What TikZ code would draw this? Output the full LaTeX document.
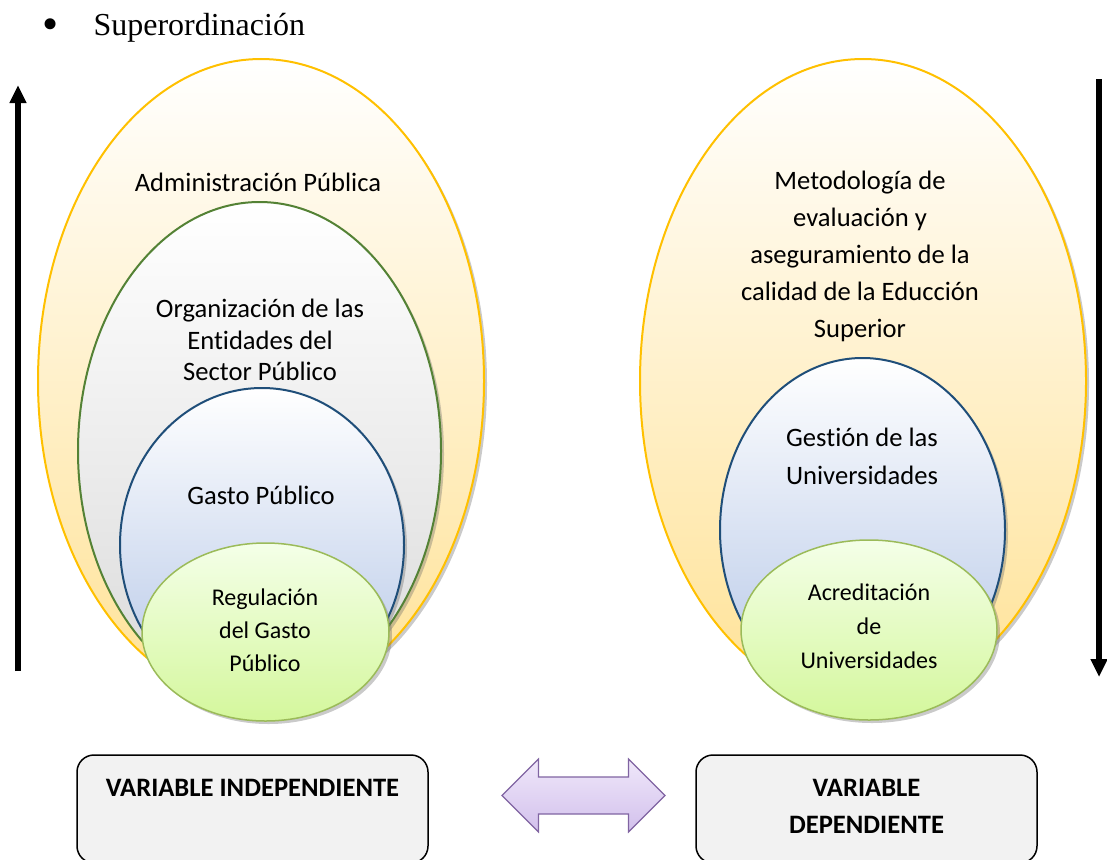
\documentclass[tikz,border=0pt]{standalone}
\usepackage{fontspec}
\setmainfont{Carlito}[Ligatures=NoCommon]
\newfontfamily\titlefont{Liberation Serif}
\usepackage{xcolor}
\usepackage{tikz}
\definecolor{ovalgold}{RGB}{255, 192, 0}
\definecolor{ovalpeach}{RGB}{255, 226, 150}
\definecolor{orggreen}{RGB}{84, 130, 53}
\definecolor{orggray}{RGB}{218, 218, 218}
\definecolor{gastblue}{RGB}{31, 78, 121}
\definecolor{gastsky}{RGB}{180, 198, 231}
\definecolor{regborder}{RGB}{155, 187, 89}
\definecolor{regtop}{RGB}{244, 255, 232}
\definecolor{regbottom}{RGB}{212, 247, 156}
\definecolor{boxgray}{RGB}{242, 242, 242}
\definecolor{arrowviolet}{RGB}{128, 100, 162}
\definecolor{violettop}{RGB}{240, 232, 250}
\definecolor{violetbottom}{RGB}{210, 192, 236}
\usetikzlibrary{shapes.geometric, arrows.meta, shadows, positioning}

\begin{document}
\begin{tikzpicture}[
    x=1pt, y=-1pt,
    oval/.style={ellipse, inner sep=0pt, line width=2pt,
        drop shadow={shadow xshift=3pt, shadow yshift=-3pt, opacity=0.35, fill=black!60}},
    outeroval/.style={oval, draw=ovalgold, top color=white, bottom color=ovalpeach},
    orgoval/.style={oval, draw=orggreen, top color=white, bottom color=orggray},
    gastoval/.style={oval, draw=gastblue, top color=white, bottom color=gastsky},
    regoval/.style={oval, line width=1.5pt, draw=regborder, top color=regtop, bottom color=regbottom},
    ovaltext/.style={align=center, inner sep=0pt, font=\fontsize{26.6}{37}\selectfont},
    smalltext/.style={align=center, inner sep=0pt, font=\fontsize{24}{34}\selectfont},
    varbox/.style={rectangle, rounded corners=17pt, draw=black, line width=1.5pt, fill=boxgray, minimum height=108},
    vartext/.style={align=center, inner sep=0pt, font=\fontsize{26.6}{37}\selectfont\bfseries},
    trend/.style={line width=6pt, -{Triangle[width=16pt, length=18pt]}},
    twoway/.style={draw=arrowviolet, line width=1.2pt, line join=miter, top color=violettop, bottom color=violetbottom}
]
    \useasboundingbox (0,0) rectangle (1107,859);
    \clip (0,0) rectangle (1107,859);

    % Title
    \node[anchor=base, font=\titlefont\fontsize{46}{46}\selectfont] (bullet) at (51,40) {\textbullet};
    \node[anchor=base west, font=\titlefont\fontsize{32}{38}\selectfont] (title) at (90,36) {Superordinación};

    % Left nest
    \node[outeroval, minimum width=446, minimum height=644] (adm) at (261,381) {};
    \node[orgoval, minimum width=363, minimum height=498] (org) at (259.5,451) {};
    \node[gastoval, minimum width=284, minimum height=314] (gasto) at (262,545) {};
    \node[regoval, minimum width=247, minimum height=178] (reg) at (265.5,632) {};

    \node[ovaltext] (admtext) at (258,182) {Administración Pública};
    \node[ovaltext, font=\fontsize{26.6}{31.5}\selectfont] (orgtext) at (260,340) {Organización de las\\Entidades del\\Sector Público};
    \node[ovaltext] (gastotext) at (261,495) {Gasto Público};
    \node[smalltext, font=\fontsize{24}{33}\selectfont] (regtext) at (265,630) {Regulación\\del Gasto\\Público};

    % Right nest
    \node[outeroval, minimum width=446, minimum height=644] (met) at (863,381) {};
    \node[gastoval, minimum width=285, minimum height=344] (gest) at (862.5,530) {};
    \node[regoval, minimum width=256, minimum height=180] (acr) at (869,630) {};

    \node[ovaltext] (mettext) at (860,256) {Metodología de\\evaluación y\\aseguramiento de la\\calidad de la Educción\\Superior};
    \node[ovaltext, font=\fontsize{26.6}{38}\selectfont] (gesttext) at (862,456) {Gestión de las\\Universidades};
    \node[smalltext] (acrtext) at (869,626) {Acreditación\\de\\Universidades};

    % Direction arrows
    \coordinate (upfoot) at (18,671);
    \coordinate (uphead) at (18,85);
    \draw[trend] (upfoot) -- (uphead);
    \coordinate (downfoot) at (1099,79);
    \coordinate (downhead) at (1099,677);
    \draw[trend] (downfoot) -- (downhead);

    % Variables
    \node[varbox, minimum width=351] (indep) at (252.5,809) {};
    \node[varbox, minimum width=341] (dep) at (866.5,809) {};
    \node[vartext] (indeptext) at (252.5,788) {VARIABLE INDEPENDIENTE};
    \node[vartext] (deptext) at (866.5,806.5) {VARIABLE\\DEPENDIENTE};

    % Two-way block arrow
    \draw[twoway] (502,795.5) -- (538.5,759) -- (538.5,777) -- (628.5,777) -- (628.5,759)
        -- (665,795.5) -- (628.5,832) -- (628.5,814) -- (538.5,814) -- (538.5,832) -- cycle;
\end{tikzpicture}
\end{document}
